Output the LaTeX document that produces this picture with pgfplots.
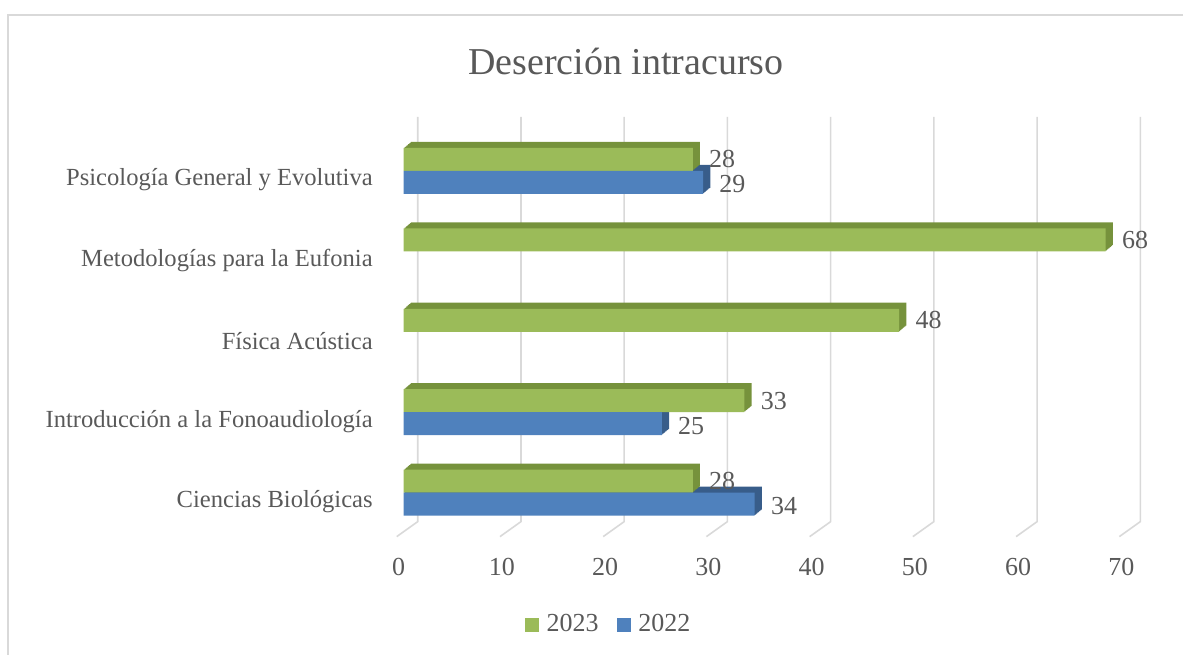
\documentclass[border=0pt]{standalone}
\usepackage{pgfplots}
\pgfplotsset{compat=1.18}
\usepackage{fontspec}
\setmainfont{Liberation Serif}
\definecolor{txt}{HTML}{595959}
\definecolor{gridc}{HTML}{D9D9D9}
\definecolor{gfront}{HTML}{9BBB59}
\definecolor{gtop}{HTML}{76923C}
\definecolor{bfront}{HTML}{4F81BD}
\definecolor{btop}{HTML}{385D8A}
\pgfplotstableread{
v y
28 4
68 3
48 2
33 1
28 0
}\greendata
\pgfplotstableread{
v y
29 4
25 1
34 0
}\bluedata
\begin{document}
\begin{tikzpicture}
\path (0,0) rectangle (592pt,327.5pt);
\draw[gridc, line width=0.8pt] (592pt,320pt) -- (4pt,320pt) -- (4pt,0pt);
\node[anchor=base, text=txt, font=\fontsize{19}{21}\selectfont] at (626.5pt/2,290pt) {Deserción intracurso};
\begin{axis}[
  set layers,
  at={(202pt,60.875pt)}, anchor=south west,
  scale only axis, width=361.55pt, height=201.25pt,
  xmin=0, xmax=70, ymin=-0.5, ymax=4.5,
  clip=false,
  axis line style={draw=none}, tick style={draw=none},
  xtick={0,10,...,70},
  ytick={0,1,2,3,4},
  yticklabels={Ciencias Biológicas, Introducción a la Fonoaudiología, Física Acústica, Metodologías para la Eufonia, Psicología General y Evolutiva},
  /pgf/number format/assume math mode=true,
  xticklabel style={anchor=center, xshift=-2.5pt, yshift=-17pt, text=txt, font=\fontsize{13}{15}\selectfont},
  yticklabel style={anchor=east, xshift=-12pt, yshift=-4.5pt, text=txt, font=\fontsize{12.3}{14}\selectfont},
  legend style={at={(0.285,-0.228)}, anchor=center, draw=none, fill=none, legend columns=2,
    font=\fontsize{13}{15}\selectfont, text=txt,
    /tikz/every odd column/.append style={column sep=2pt},
    /tikz/every even column/.append style={column sep=7pt}},
  legend cell align=left,
]
\begin{pgfonlayer}{axis background}
\pgfplotsinvokeforeach{0,10,...,70}{
  \draw[gridc, line width=0.8pt] ([xshift=7pt,yshift=6.875pt]axis cs:#1,4.5) -- ([xshift=7pt,yshift=5.625pt]axis cs:#1,-0.5) -- ([xshift=-3.5pt,yshift=-1.875pt]axis cs:#1,-0.5);
}
\end{pgfonlayer}
% extrusions blue
\pgfplotsinvokeforeach{1,...,8}{
  \addplot[xbar, bar width=11.5pt, bar shift=-5.75pt, fill=btop, draw=none, forget plot, xshift=#1*0.45pt, yshift=#1*0.38pt] table[x=v,y=y] {\bluedata};
}
\pgfplotsinvokeforeach{1,...,8}{
  \addplot[xbar, bar width=11.5pt, bar shift=5.75pt, fill=gtop, draw=none, forget plot, xshift=#1*0.45pt, yshift=#1*0.38pt] table[x=v,y=y] {\greendata};
}
\addplot[xbar, bar width=11.5pt, bar shift=5.75pt, fill=gfront, draw=none, forget plot,
  nodes near coords, every node near coord/.append style={anchor=west, inner sep=0pt, xshift=8pt, yshift=5.75pt, text=txt, font=\fontsize{13}{15}\selectfont}] table[x=v,y=y] {\greendata};
\addplot[xbar, bar width=11.5pt, bar shift=-5.75pt, fill=bfront, draw=none, forget plot,
  nodes near coords, every node near coord/.append style={anchor=west, inner sep=0pt, xshift=8pt, yshift=-6.75pt, text=txt, font=\fontsize{13}{15}\selectfont}] table[x=v,y=y] {\bluedata};
\addlegendimage{legend image code/.code={\fill[gfront] (0pt,-3.25pt) rectangle (6.5pt,3.25pt);}}
\addlegendentry{2023}
\addlegendimage{legend image code/.code={\fill[bfront] (0pt,-3.25pt) rectangle (6.5pt,3.25pt);}}
\addlegendentry{2022}
\end{axis}
\end{tikzpicture}
\end{document}
